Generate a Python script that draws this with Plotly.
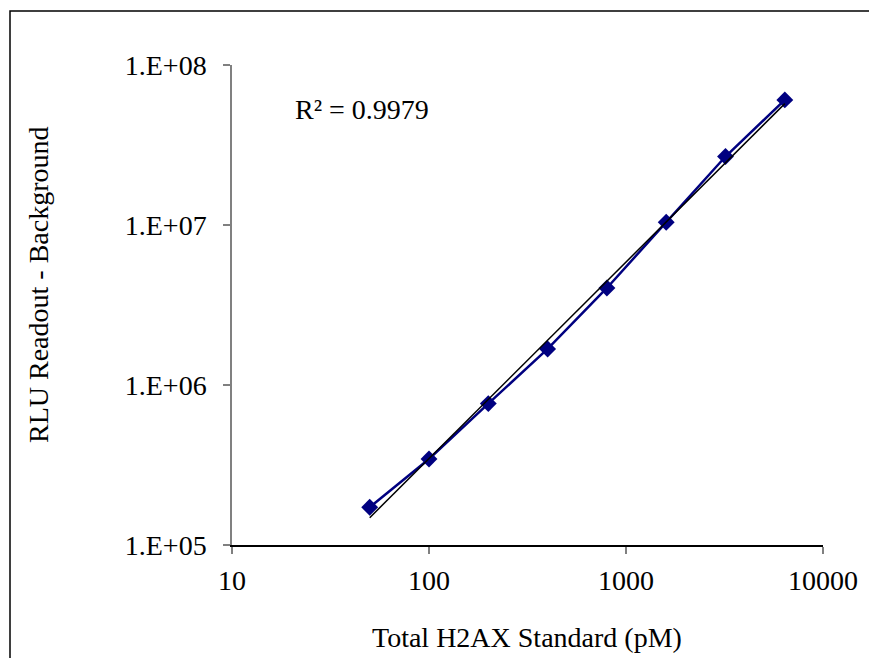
import numpy as np
import plotly.graph_objects as go

# Data
conc_pM = [50, 100, 200, 400, 800, 1600, 3200, 6400]
rlu = [1.72e5, 3.45e5, 7.65e5, 1.68e6, 4.04e6, 1.04e7, 2.68e7, 6.05e7]
r2_text = "R² = 0.9979"
x_tickvals = [10, 100, 1000, 10000]
x_ticktext = ["10", "100", "1000", "10000"]
y_tickvals = [1e5, 1e6, 1e7, 1e8]
y_ticktext = ["1.E+05", "1.E+06", "1.E+07", "1.E+08"]

# Power-law trendline fitted to the data (as Excel does)
b, a = np.polyfit(np.log10(conc_pM), np.log10(rlu), 1)
trend_x = [conc_pM[0], conc_pM[-1]]
trend_y = [10 ** (a + b * np.log10(v)) for v in trend_x]

FONT = "Liberation Serif, Times New Roman, serif"
NAVY = "#000080"
FS = 28

fig = go.Figure()
fig.add_trace(go.Scatter(
    x=conc_pM, y=rlu, mode="lines+markers",
    line=dict(color=NAVY, width=2.5),
    marker=dict(symbol="diamond", size=13, color=NAVY),
    showlegend=False,
))
fig.add_trace(go.Scatter(
    x=trend_x, y=trend_y, mode="lines",
    line=dict(color="black", width=1.5),
    showlegend=False,
))

# The page body adds an 8px margin, so lay out in page coords minus 8
OFF = 8
W, H = 877 - OFF, 658 - OFF
L, R, T, B = 232 - OFF, 823 - OFF, 65 - OFF, 545 - OFF
pw, ph = R - L, B - T

def px(xp):
    return (xp - OFF - L) / pw

def py(yp):
    return (B - (yp - OFF)) / ph

fig.update_layout(
    width=W, height=H,
    margin=dict(l=L, r=W - R, t=T, b=H - B),
    paper_bgcolor="white", plot_bgcolor="white",
    font=dict(family=FONT, size=FS, color="black"),
    xaxis=dict(
        type="log", range=[1, 4],
        tickvals=x_tickvals, ticktext=x_ticktext,
        showgrid=False, zeroline=False,
        showline=True, linecolor="black", linewidth=1.5,
        ticks="outside", ticklen=7, tickcolor="#808080", tickwidth=1.5,
        ticklabelstandoff=3,
        tickfont=dict(family=FONT, size=FS, color="black"),
    ),
    yaxis=dict(
        type="log", range=[5, 8],
        tickvals=y_tickvals, ticktext=y_ticktext,
        showgrid=False, zeroline=False,
        showline=True, linecolor="#808080", linewidth=1.5,
        ticks="outside", ticklen=7, tickcolor="#808080", tickwidth=1.5,
        ticklabelstandoff=11,
        tickfont=dict(family=FONT, size=FS, color="black"),
    ),
    annotations=[
        dict(text="Total H2AX Standard (pM)", xref="paper", yref="paper",
             x=px(527), y=py(637), showarrow=False,
             font=dict(family=FONT, size=FS), xanchor="center", yanchor="middle"),
        dict(text="RLU Readout - Background", xref="paper", yref="paper",
             x=px(38), y=py(285), showarrow=False, textangle=-90,
             font=dict(family=FONT, size=FS), xanchor="center", yanchor="middle"),
        dict(text=r2_text, xref="paper", yref="paper",
             x=px(362), y=py(109), showarrow=False,
             font=dict(family=FONT, size=FS), xanchor="center", yanchor="middle"),
    ],
    shapes=[
        dict(type="rect", xref="paper", yref="paper",
             x0=px(10), x1=px(900), y0=py(700), y1=py(11),
             line=dict(color="black", width=1.5), fillcolor="rgba(0,0,0,0)",
             layer="below"),
    ],
)

fig.write_html("out.html")
